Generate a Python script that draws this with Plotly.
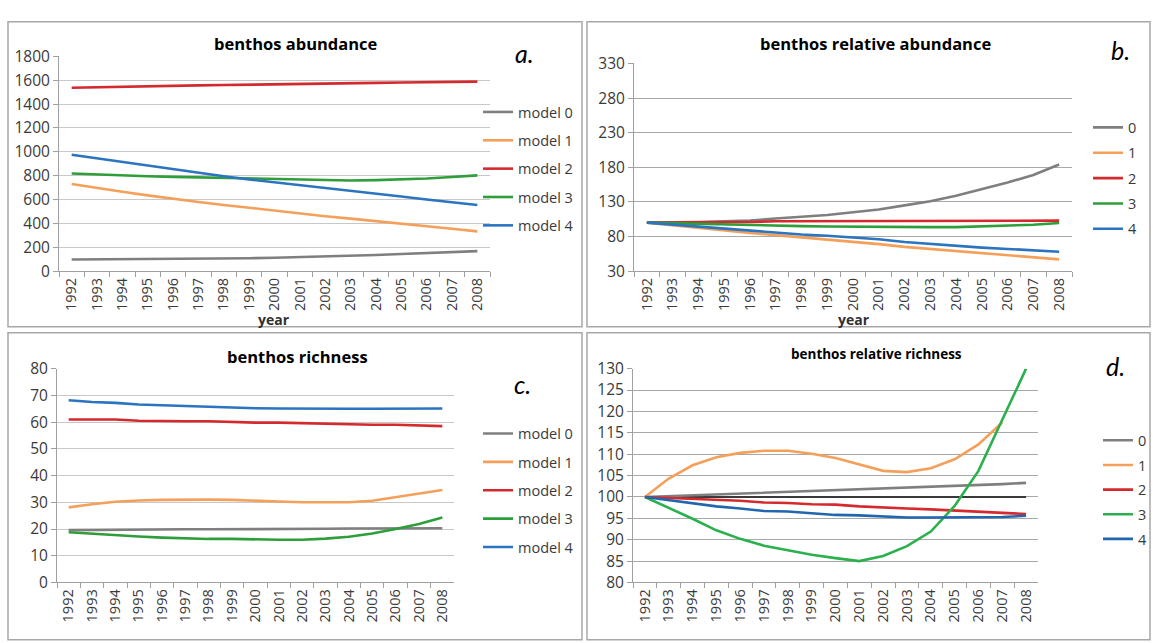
import plotly.graph_objects as go

W, H = 1153, 643

years = ["1992", "1993", "1994", "1995", "1996", "1997", "1998", "1999", "2000",
         "2001", "2002", "2003", "2004", "2005", "2006", "2007", "2008"]

# ---- panel a: benthos abundance ----
abund_m0 = [97, 98, 99, 100, 101, 103, 105, 108, 112, 117, 122, 128, 135, 144, 152, 161, 168]
abund_m1 = [730, 695, 665, 635, 605, 580, 555, 530, 508, 482, 460, 440, 420, 400, 378, 355, 333]
abund_m2 = [1537, 1542, 1546, 1550, 1554, 1557, 1560, 1562, 1565, 1567, 1570, 1574, 1578, 1582, 1585, 1588, 1589]
abund_m3 = [819, 810, 802, 796, 790, 785, 780, 775, 770, 765, 761, 760, 763, 768, 776, 789, 803]
abund_m4 = [976, 945, 915, 885, 855, 825, 795, 768, 745, 720, 695, 672, 648, 625, 600, 577, 554]

# ---- panel b: benthos relative abundance ----
rabund_0 = [100, 100, 101, 102, 103, 106, 108, 111, 115, 119, 125, 131, 139, 148, 158, 169, 184]
rabund_1 = [100, 96, 92, 88, 85, 82, 79, 76, 72, 69, 65, 62, 58, 56, 53, 50, 47]
rabund_2 = [100, 100, 100, 101, 101, 102, 102, 102, 102, 102, 102, 103, 103, 103, 103, 103, 103]
rabund_3 = [100, 99, 98, 97, 96, 95, 95, 94.5, 94, 93.5, 93.5, 93.5, 93.5, 94.5, 95.5, 97, 99.5]
rabund_4 = [100, 97, 94, 92, 89, 86, 83, 81, 79, 76, 72, 69, 66, 64, 62, 60, 58]

# ---- panel c: benthos richness ----
rich_m0 = [19.6, 19.7, 19.7, 19.8, 19.8, 19.9, 19.9, 19.9, 20.0, 20.0, 20.0, 20.1, 20.2, 20.2, 20.3, 20.3, 20.3]
rich_m1 = [28.1, 29.3, 30.2, 30.7, 30.9, 31.0, 31.0, 30.9, 30.7, 30.3, 30.0, 29.9, 30.0, 30.6, 32.0, 33.3, 34.6]
rich_m2 = [61.0, 61.0, 61.0, 60.5, 60.3, 60.3, 60.3, 60.0, 59.8, 59.8, 59.6, 59.3, 59.0, 59.0, 59.0, 58.8, 58.5]
rich_m3 = [18.8, 18.2, 17.7, 17.2, 16.8, 16.5, 16.3, 16.3, 16.1, 16.0, 16.0, 16.4, 17.1, 18.3, 20.0, 21.9, 24.3]
rich_m4 = [68.2, 67.5, 67.2, 66.6, 66.3, 66.0, 65.8, 65.5, 65.2, 65.1, 65.0, 65.0, 65.0, 65.0, 65.0, 65.0, 65.1]

# ---- panel d: benthos relative richness ----
rrich_0 = [100, 100.2, 100.4, 100.6, 100.8, 101.0, 101.1, 101.3, 101.5, 101.7, 101.9, 102.1, 102.3, 102.5, 102.7, 103.0, 103.3]
rrich_1 = [100, 104.3, 107.4, 109.3, 110.3, 110.8, 110.8, 110.1, 109.1, 107.6, 106.1, 105.8, 106.7, 108.8, 112.3, 117.4, None]
rrich_2 = [100, 99.8, 99.6, 99.3, 99.1, 98.7, 98.6, 98.3, 98.2, 97.8, 97.5, 97.3, 97.1, 96.8, 96.5, 96.3, 96.0]
rrich_3 = [100, 97.5, 94.9, 92.2, 90.2, 88.6, 87.6, 86.5, 85.7, 85.0, 86.2, 88.5, 91.9, 97.9, 106.1, 118.1, 130.0]
rrich_4 = [100, 99.3, 98.6, 97.8, 97.3, 96.7, 96.6, 96.2, 95.8, 95.7, 95.4, 95.2, 95.2, 95.2, 95.2, 95.3, 95.6]
rrich_ref = [100, 100, 100, 100, 100, 100, 100, 100, 100, 100, 100, 100, 100, 100, 100, 100, 100]

names_model = ["model 0", "model 1", "model 2", "model 3", "model 4"]
names_short = ["0", "1", "2", "3", "4"]
colors = ["#7f7f7f", "#f5a05a", "#d42a2e", "#2e9e3a", "#2a74c0"]
colors_d = ["#7f7f7f", "#f5a05a", "#d42a2e", "#2bb04e", "#2266b0"]

FONT = "Open Sans"
TICKC = "#3a3a3a"

fig = go.Figure()

def add_series(series, names, cols, xa, ya, legend):
    for i, (s, n, c) in enumerate(zip(series, names, cols)):
        fig.add_trace(go.Scatter(
            x=years, y=s, name=n, mode="lines",
            line=dict(color=c, width=2.6),
            xaxis=xa, yaxis=ya, legend=legend,
            legendgroup=legend + n, connectgaps=False))

add_series([abund_m0, abund_m1, abund_m2, abund_m3, abund_m4], names_model, colors, "x", "y", "legend")
add_series([rabund_0, rabund_1, rabund_2, rabund_3, rabund_4], names_short, colors, "x2", "y2", "legend2")
add_series([rich_m0, rich_m1, rich_m2, rich_m3, rich_m4], names_model, colors, "x3", "y3", "legend3")
fig.add_trace(go.Scatter(x=years, y=rrich_ref, mode="lines", showlegend=False,
                         line=dict(color="#3a3a3a", width=2), xaxis="x4", yaxis="y4"))
add_series([rrich_0, rrich_1, rrich_2, rrich_3, rrich_4], names_short, colors_d, "x4", "y4", "legend4")

def px_x(p):
    return p / W

def px_y(p):
    return 1 - p / H

def xaxis(x0, x1, anchor):
    return dict(domain=[px_x(x0), px_x(x1)], anchor=anchor, type="category",
                range=[-0.5, 16.5], tickangle=-90, tickson="boundaries",
                ticks="outside", ticklen=5, tickcolor="#a0a0a0",
                showline=True, linecolor="#a0a0a0", linewidth=1,
                showgrid=False, zeroline=False,
                tickfont=dict(family=FONT, size=14.5, color=TICKC))

def yaxis(y0, y1, anchor, rng, dtick, grid):
    return dict(domain=[px_y(y1), px_y(y0)], anchor=anchor, range=rng,
                tick0=rng[0], dtick=dtick,
                ticks="outside", ticklen=5, tickcolor="#a0a0a0",
                showline=True, linecolor="#a0a0a0", linewidth=1,
                showgrid=True, gridcolor=grid, gridwidth=1, zeroline=False,
                tickfont=dict(family=FONT, size=15.5, color=TICKC))

def legend(x, ytop, gap):
    return dict(x=px_x(x), y=px_y(ytop), xanchor="left", yanchor="top",
                bgcolor="rgba(0,0,0,0)", borderwidth=0, tracegroupgap=gap,
                font=dict(family=FONT, size=14.5, color=TICKC),
                itemclick=False, itemdoubleclick=False)

fig.update_layout(
    width=W, height=H, autosize=False,
    margin=dict(l=0, r=0, t=0, b=0),
    paper_bgcolor="white", plot_bgcolor="white",
    font=dict(family=FONT),
    xaxis=xaxis(59, 490, "y"),
    yaxis=yaxis(46, 268.3, "x", [0, 1800], 200, "#c8c8c8"),
    xaxis2=xaxis(634, 1072, "y2"),
    yaxis2=yaxis(53.3, 268.3, "x2", [30, 330], 50, "#a8a8a8"),
    xaxis3=xaxis(57, 454, "y3"),
    yaxis3=yaxis(369.3, 590.7, "x3", [0, 80], 10, "#c8c8c8"),
    xaxis4=xaxis(633, 1038, "y4"),
    yaxis4=yaxis(369.3, 590.7, "x4", [80, 130], 5, "#a8a8a8"),
    legend=legend(478, 87, 6.5),
    legend2=legend(1088, 103, 3.5),
    legend3=legend(478, 420, 6.5),
    legend4=legend(1098, 427, 2.8),
    showlegend=True,
)

# panel frames
frames = [(8, 10, 582, 326), (587, 10, 1150, 326), (8, 332, 582, 650), (587, 332, 1150, 650)]
for (x0, y0, x1, y1) in frames:
    fig.add_shape(type="rect", xref="paper", yref="paper",
                  x0=px_x(x0), x1=px_x(x1), y0=px_y(y1), y1=px_y(y0),
                  line=dict(color="#a8a8a8", width=1.5), layer="below")

def ann(text, x, y, size, bold=False, italic=False, color="black"):
    fig.add_annotation(text=("<b>%s</b>" % text) if bold else text,
                       x=px_x(x), y=px_y(y), xref="paper", yref="paper",
                       showarrow=False, xanchor="center", yanchor="middle",
                       font=dict(family=FONT if not italic else "Lato", size=size, color=color,
                                 style="italic" if italic else "normal"))

ann("benthos abundance", 296, 33, 16.5, bold=True)
ann("benthos relative abundance", 875, 33, 16.5, bold=True)
ann("benthos richness", 297, 357, 16.5, bold=True)
ann("benthos relative richness", 876, 354, 13.5, bold=True)
ann("year", 274, 318, 14, bold=True, color="#303030")
ann("year", 854, 318, 14, bold=True, color="#303030")
ann("a.", 524, 42, 25, italic=True)
ann("b.", 1120, 39, 25, italic=True)
ann("c.", 522, 385, 25, italic=True)
ann("d.", 1115, 367, 25, italic=True)

fig.write_html("out.html")
